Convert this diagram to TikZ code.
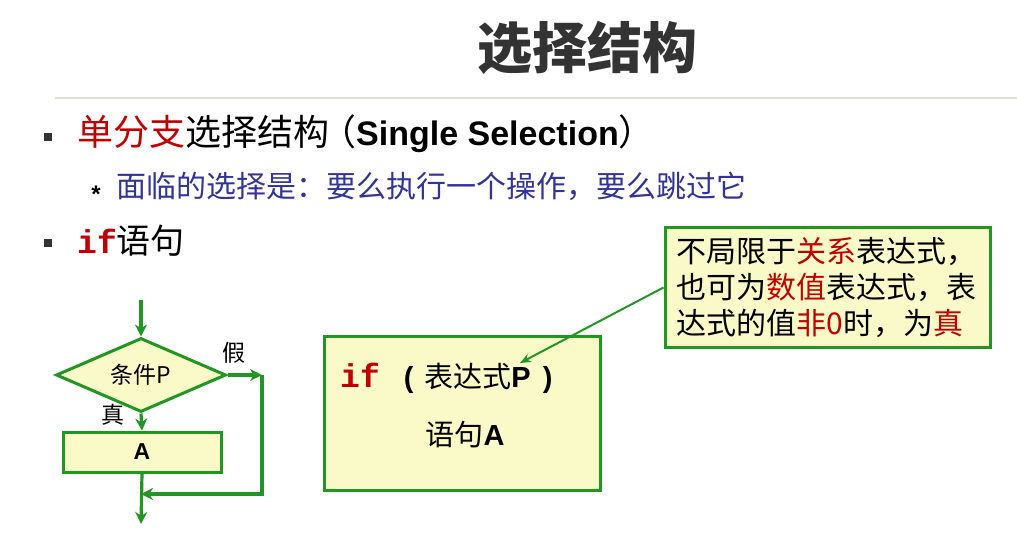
\documentclass[tikz,border=0pt]{standalone}
\usepackage{fontspec}
\setmainfont{Liberation Sans}
\setmonofont{Liberation Mono}
\newfontfamily\zhfont{Noto Sans CJK SC}
\newcommand\zh[1]{{\zhfont #1}}
\usetikzlibrary{shapes.geometric,arrows.meta}
\definecolor{hlred}{RGB}{192,0,0}
\definecolor{subblue}{RGB}{51,51,153}
\definecolor{titlegray}{RGB}{51,51,51}
\definecolor{boxgreen}{RGB}{34,150,34}
\definecolor{boxfill}{RGB}{250,250,200}
\definecolor{rulegray}{RGB}{225,222,212}
\tikzset{
  txt/.style={inner sep=0pt, anchor=west},
  flowbox/.style={draw=boxgreen, fill=boxfill, line width=3pt, inner sep=0pt},
  flow/.style={draw=boxgreen, line width=3.2pt, -{Stealth[length=12pt,width=12pt]}},
  callarrow/.style={draw=boxgreen, line width=2pt, -{Stealth[length=11pt,width=9pt]}},
}
\begin{document}
\begin{tikzpicture}[x=1pt,y=-1pt]
\useasboundingbox (0,0) rectangle (1017,537);
% title
\node[inner sep=0pt, text=titlegray, font=\zhfont\bfseries\fontsize{55}{62}\selectfont] (title) at (587,48) {选择结构};
\draw[rulegray, line width=1.5pt] (55,98) -- (1017,98);
% bullet 1
\node[fill=titlegray, minimum size=8pt, inner sep=0pt] (b1) at (48,137) {};
\node[txt, font=\fontsize{34}{38}\selectfont] (t1) at (77,134) {\zh{\fontsize{36}{40}\selectfont\textcolor{hlred}{单分支}选择结构\hspace{-9pt}（}\textbf{Single Selection}\zh{\fontsize{36}{40}\selectfont ）}};
% sub bullet
\node[inner sep=0pt, text=black, font=\bfseries\fontsize{24}{26}\selectfont] (s1) at (96,194) {*};
\node[txt, text=subblue, font=\zhfont\fontsize{30}{34}\selectfont] (t2) at (116,186) {面临的选择是：要么执行一个操作，要么跳过它};
% bullet 2
\node[fill=titlegray, minimum size=8pt, inner sep=0pt] (b2) at (48,243) {};
\node[txt, font=\fontsize{34}{38}\selectfont] (t3) at (77,241) {\textcolor{hlred}{\ttfamily\bfseries\fontsize{33}{38}\selectfont if}\zh{语句}};
% flowchart
\coordinate (in) at (141,300);
\node[flowbox, diamond, minimum width=170pt, minimum height=74pt, aspect=2.3, font=\zhfont\fontsize{23}{26}\selectfont] (cond) at (141,375) {条件P};
\node[flowbox, minimum width=158pt, minimum height=40pt, font=\bfseries\fontsize{23}{26}\selectfont] (A) at (142,452) {A};
\coordinate (out) at (141,524);
\coordinate (rc) at (262,375);
\coordinate (rb) at (262,494);
\coordinate (jn) at (141,494);
\draw[flow] (in) -- (cond.north);
\draw[flow] (cond.south) -- (A.north);
\draw[flow] (A.south) -- (out);
\draw[flow] (cond.east) -- (rc);
\draw[flow, line join=miter] (rc) -- (rb) -- (jn);
\node[inner sep=0pt, font=\zhfont\fontsize{23}{26}\selectfont] (f) at (234,353) {假};
\node[inner sep=0pt, font=\zhfont\fontsize{23}{26}\selectfont] (tr) at (113,415) {真};
% code box
\node[flowbox, minimum width=276pt, minimum height=154pt] (code) at (462,413) {};
\node[txt, font=\fontsize{29}{32}\selectfont] (c1) at (340,378) {\textcolor{hlred}{\ttfamily\bfseries\fontsize{33}{36}\selectfont if}\hspace{24pt}\textbf{(}\hspace{11pt}\zh{表达式}\textbf{P}\hspace{12pt}\textbf{)}};
\node[inner sep=0pt, font=\fontsize{29}{32}\selectfont] (c2) at (465,435) {\zh{语句}\textbf{A}};
% callout
\node[flowbox, minimum width=325pt, minimum height=119pt, text width=302pt, align=left, font=\zhfont\fontsize{30}{36}\selectfont] (call) at (827.5,287.5)
  {不局限于\textcolor{hlred}{关系}表达式，\\也可为\textcolor{hlred}{数值}表达式，表\\达式的值\textcolor{hlred}{非0}时，为\textcolor{hlred}{真}};
\coordinate (tip) at (520,363);
\draw[callarrow] (call.west) -- (tip);
\end{tikzpicture}
\end{document}
